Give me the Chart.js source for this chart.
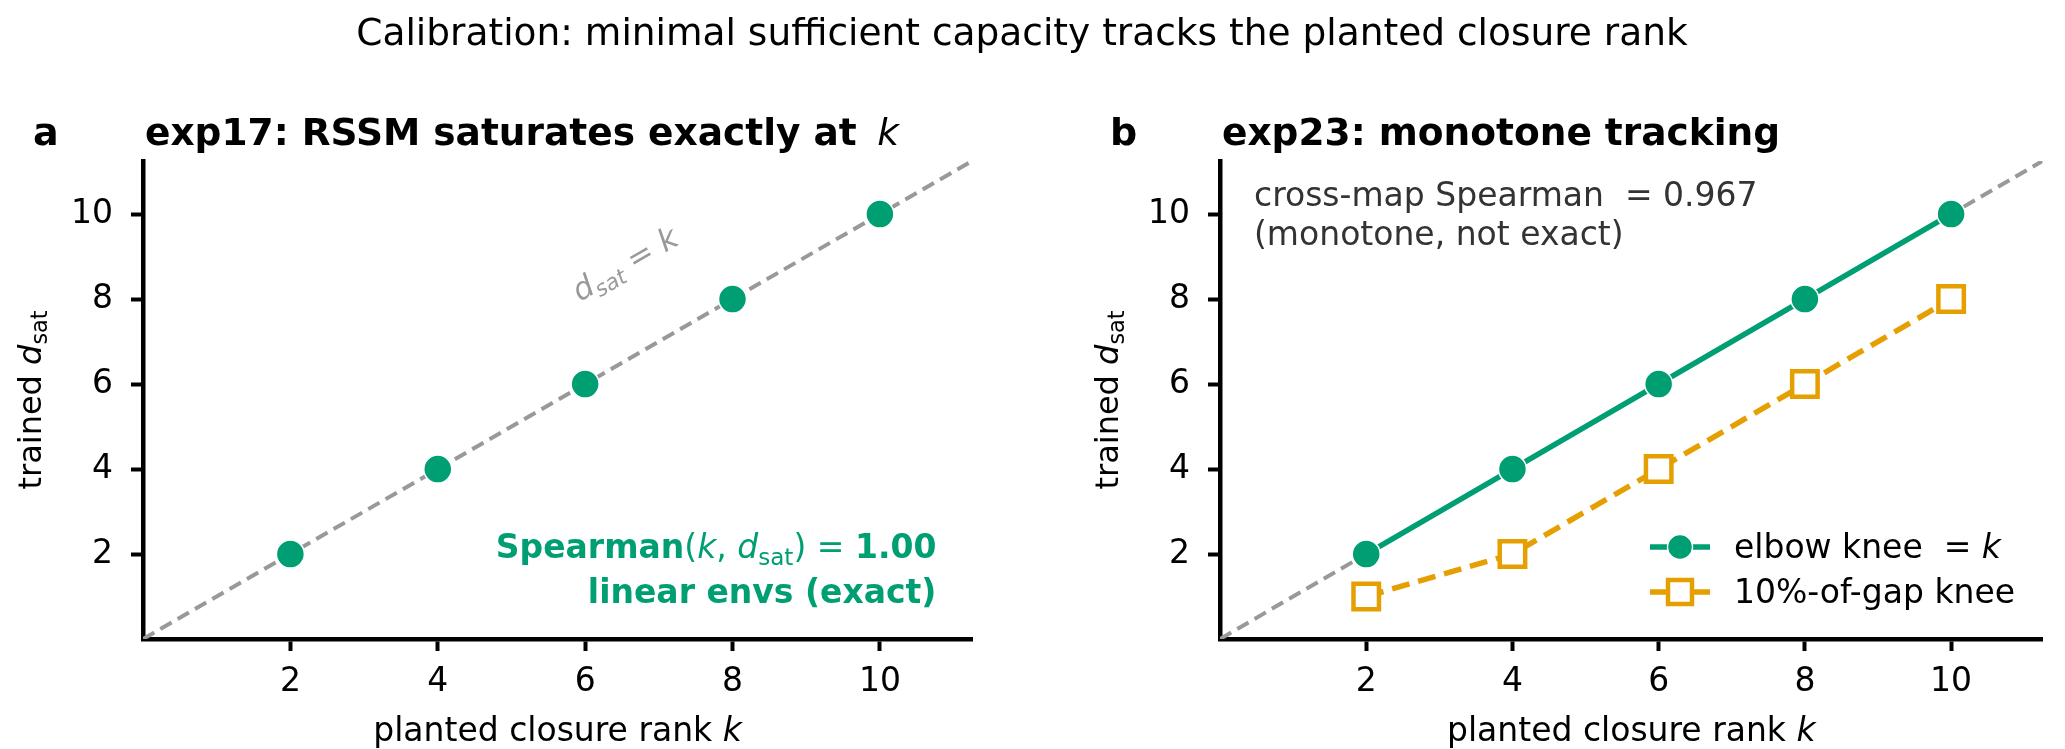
<!DOCTYPE html>
<html>
<head>
<meta charset="utf-8">
<script src="https://cdn.jsdelivr.net/npm/chart.js@4.4.1/dist/chart.umd.min.js"></script>
<style>
  html, body { margin: 0; padding: 0; background: #fff; }
  #wrap { position: relative; width: 2065px; height: 749px; overflow: hidden; }
  canvas { position: absolute; top: 0; }
  #suptitle {
    position: absolute; left: 0; top: 14px; width: 2044px; text-align: center;
    font: 37.5px "DejaVu Sans", sans-serif; line-height: 37px; color: #000;
  }
</style>
</head>
<body>
<div id="wrap">
  <canvas id="chartA" width="1032" height="749" style="left:0"></canvas>
  <canvas id="chartB" width="1033" height="749" style="left:1032px"></canvas>
  <div id="suptitle">Calibration: minimal sufficient capacity tracks the planted closure rank</div>
</div>
<script>
// planted closure rank k
const rankK = [2, 4, 6, 8, 10]
// exp17: RSSM saturation dim
const exp17Dsat = [2, 4, 6, 8, 10]
// exp23: two knee definitions
const elbowKnee = [2, 4, 6, 8, 10]
const gapKnee = [1, 2, 4, 6, 8]
// d_sat = k reference line ends
const identityK = [0, 11.25]
const axisTicks = [2, 4, 6, 8, 10]

const FONT = '"DejaVu Sans", sans-serif'
const GREEN = '#009E73'
const ORANGE = '#E69F00'
const GREY = '#999999'
Chart.defaults.font.family = FONT

const toPoints = (xs, ys) => xs.map((v, i) => ({x: v, y: ys[i]}))

const fnt = (s, size) => (s.includes('i') ? 'italic ' : '') + (s.includes('b') ? 'bold ' : '') + size + 'px ' + FONT

// draw text made of [text, style, subscript] pieces
function rich(ctx, segs, x, y, size, align, color) {
    let w = 0
    const parts = segs.map(([t, s, sub]) => {
        const sz = sub ? size * 0.7 : size
        const f = fnt(s, sz)
        ctx.font = f
        const pw = ctx.measureText(t).width
        w += pw
        return {t, f, pw, dy: sub ? size * 0.2 : 0}
    })
    let cx = align === 'right' ? x - w : align === 'center' ? x - w / 2 : x
    ctx.fillStyle = color
    ctx.textAlign = 'left'
    ctx.textBaseline = 'alphabetic'
    parts.forEach(p => {
        ctx.font = p.f
        ctx.fillText(p.t, cx, y + p.dy)
        cx += p.pw
    })
}

function commonDeco(chart, letter, titleSegs) {
    const {ctx, chartArea: ca} = chart
    ctx.save()
    rich(ctx, [[letter, 'b']], ca.left - 110, 145, 38, 'left', '#000')
    rich(ctx, titleSegs, ca.left + 2, 145, 37.5, 'left', '#000')
    rich(ctx, [['planted closure rank ', 'n'], ['k', 'i']], (ca.left + ca.right) / 2, 741, 33, 'center', '#000')
    ctx.translate(ca.left - 102, (ca.top + ca.bottom) / 2)
    ctx.rotate(-Math.PI / 2)
    rich(ctx, [['trained ', 'n'], ['d', 'i'], ['sat', 'n', 1]], 0, 0, 32, 'center', '#000')
    ctx.restore()
}

function axisOpts(isX, fitSize) {
    return {
        type: 'linear',
        min: 0,
        max: 11.25,
        afterBuildTicks: s => { s.ticks = axisTicks.map(v => ({value: v})) },
        afterFit: s => { if (isX) s.height = fitSize; else s.width = fitSize },
        grid: {drawOnChartArea: false, drawTicks: true, tickLength: 12, tickWidth: 4, tickColor: '#000'},
        border: {color: '#000', width: 4.5},
        ticks: {color: '#000', font: {size: 33}, padding: isX ? 12 : 18, maxRotation: 0}
    }
}

function makeChart(id, datasets, leftW, rightPad, deco) {
    return new Chart(document.getElementById(id), {
        type: 'scatter',
        data: {datasets},
        options: {
            responsive: false,
            animation: false,
            layout: {padding: {top: 161, right: rightPad, bottom: 0, left: 0}},
            plugins: {legend: {display: false}, tooltip: {enabled: false}},
            scales: {x: axisOpts(true, 110), y: axisOpts(false, leftW)}
        },
        plugins: [{id: 'deco', afterDraw: deco}]
    })
}

const identityLine = order => ({
    data: toPoints(identityK, identityK),
    showLine: true,
    borderColor: GREY,
    borderDash: [13, 7],
    borderWidth: 4,
    pointRadius: 0,
    order: order
})

// panel a
makeChart('chartA', [
    {
        data: toPoints(rankK, exp17Dsat),
        showLine: false,
        pointRadius: 14,
        backgroundColor: GREEN,
        borderColor: '#fff',
        borderWidth: 1.5,
        order: 1
    },
    identityLine(2)
], 143, 60, chart => {
    commonDeco(chart, 'a', [['exp17: RSSM saturates exactly at \u2009', 'b'], ['k', 'i']])
    const {ctx, chartArea: ca, scales: {x, y}} = chart
    ctx.save()
    const ang = Math.atan2(y.getPixelForValue(0) - y.getPixelForValue(1), x.getPixelForValue(1) - x.getPixelForValue(0))
    ctx.translate(x.getPixelForValue(6.55), y.getPixelForValue(8.8))
    ctx.rotate(-ang)
    rich(ctx, [['d', 'i'], ['sat', 'i', 1], [' = ', 'n'], ['k', 'i']], 0, 9, 31, 'center', GREY)
    ctx.restore()
    const rx = ca.left + 0.957 * (ca.right - ca.left)
    rich(ctx, [['Spearman', 'b'], ['(', 'n'], ['k', 'i'], [', ', 'n'], ['d', 'i'], ['sat', 'n', 1], [')', 'n'], [' = ', 'n'], ['1.00', 'b']], rx, 558, 33, 'right', GREEN)
    rich(ctx, [['linear envs (exact)', 'b']], rx, 603, 33, 'right', GREEN)
})

// panel b
makeChart('chartB', [
    {
        data: toPoints(rankK, elbowKnee),
        showLine: true,
        borderColor: GREEN,
        borderWidth: 5.5,
        pointRadius: 14,
        pointBackgroundColor: GREEN,
        pointBorderColor: '#fff',
        pointBorderWidth: 1.5,
        order: 1
    },
    {
        data: toPoints(rankK, gapKnee),
        showLine: true,
        borderColor: ORANGE,
        borderDash: [18, 9],
        borderWidth: 5.5,
        pointStyle: 'rect',
        pointRadius: 18,
        pointBackgroundColor: '#fff',
        pointBorderColor: ORANGE,
        pointBorderWidth: 4.5,
        order: 2
    },
    identityLine(3)
], 188, 17, chart => {
    commonDeco(chart, 'b', [['exp23: monotone tracking', 'b']])
    const {ctx, chartArea: ca} = chart
    rich(ctx, [['cross-map Spearman  = 0.967', 'n']], ca.left + 34, 206, 33, 'left', '#333')
    rich(ctx, [['(monotone, not exact)', 'n']], ca.left + 34, 245, 33, 'left', '#333')

    // legend
    const lx0 = ca.left + 430, lx1 = lx0 + 60, mx = (lx0 + lx1) / 2, tx = lx1 + 24
    const rows = [547, 592]
    ctx.save()
    ctx.lineWidth = 5.5
    ctx.strokeStyle = GREEN
    ctx.beginPath(); ctx.moveTo(lx0, rows[0]); ctx.lineTo(lx1, rows[0]); ctx.stroke()
    ctx.fillStyle = GREEN
    ctx.strokeStyle = '#fff'
    ctx.lineWidth = 1.5
    ctx.beginPath(); ctx.arc(mx, rows[0], 12.5, 0, Math.PI * 2); ctx.fill(); ctx.stroke()
    ctx.lineWidth = 5.5
    ctx.strokeStyle = ORANGE
    ctx.beginPath(); ctx.moveTo(lx0, rows[1]); ctx.lineTo(lx1, rows[1]); ctx.stroke()
    ctx.fillStyle = '#fff'
    ctx.lineWidth = 4.5
    ctx.fillRect(mx - 12, rows[1] - 12, 24, 24)
    ctx.strokeRect(mx - 12, rows[1] - 12, 24, 24)
    ctx.restore()
    rich(ctx, [['elbow knee  = ', 'n'], ['k', 'i']], tx, rows[0] + 11, 33, 'left', '#000')
    rich(ctx, [['10%-of-gap knee', 'n']], tx, rows[1] + 11, 33, 'left', '#000')
})
</script>
</body>
</html>
